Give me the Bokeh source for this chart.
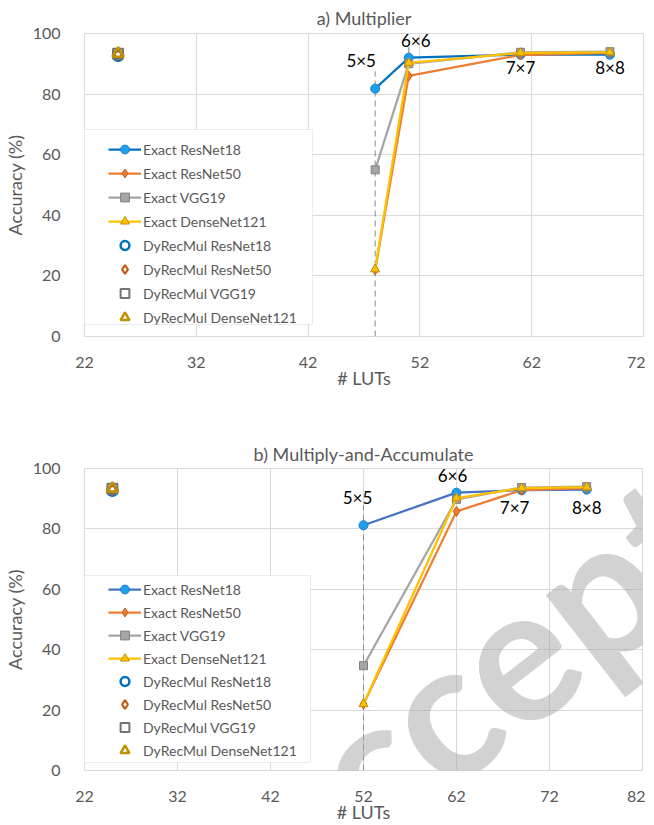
from bokeh.plotting import figure
from bokeh.models import (Legend, LegendItem, Range1d, FixedTicker, BoxAnnotation,
                          ColumnDataSource)
from bokeh.layouts import column
from bokeh.embed import file_html
from bokeh.resources import INLINE
from bokeh.core.properties import value

FONT = "Lato"
TXT = "#595959"

# ---------------- data ----------------
config_labels = ["5×5", "6×6", "7×7", "8×8"]
series_names = ["ResNet18", "ResNet50", "VGG19", "DenseNet121"]

# a) Multiplier
mul_luts = [48, 51, 61, 69]
mul_resnet18 = [81.8, 92.0, 93.0, 93.0]
mul_resnet50 = [22.0, 86.0, 92.9, 93.6]
mul_vgg19 = [55.0, 90.0, 93.8, 94.0]
mul_densenet121 = [22.2, 90.3, 93.6, 93.8]
mul_dyrec_luts = [25]
mul_dyrec_resnet18 = [92.6]
mul_dyrec_resnet50 = [93.0]
mul_dyrec_vgg19 = [93.3]
mul_dyrec_densenet121 = [93.4]
mul_ticks = [22, 32, 42, 52, 62, 72]

# b) Multiply-and-Accumulate
mac_luts = [52, 62, 69, 76]
mac_resnet18 = [81.2, 92.0, 92.8, 93.0]
mac_resnet50 = [22.0, 85.8, 92.8, 93.5]
mac_vgg19 = [34.7, 89.8, 93.7, 94.0]
mac_densenet121 = [22.0, 90.2, 93.5, 93.8]
mac_dyrec_luts = [25]
mac_dyrec_resnet18 = [92.6]
mac_dyrec_resnet50 = [93.0]
mac_dyrec_vgg19 = [93.3]
mac_dyrec_densenet121 = [93.4]
mac_ticks = [22, 32, 42, 52, 62, 72, 82]

y_ticks = [0, 20, 40, 60, 80, 100]

watermark_text = ["Accepted"]

# ---------------- styles ----------------
EXACT = {
    "ResNet18": dict(marker="circle", fill="#1E9FE8", edge="#1B7CCB", size=9),
    "ResNet50": dict(marker="diamond", fill="#ED7D31", edge="#C55A11", size=10, line="#ED7D31"),
    "VGG19": dict(marker="square", fill="#A5A5A5", edge="#7F7F7F", size=8, line="#A5A5A5"),
    "DenseNet121": dict(marker="triangle", fill="#FFC000", edge="#BF9000", size=9, line="#FFC000"),
}
DYREC = {
    "ResNet18": dict(marker="circle", edge="#0070C0", size=10, lw=2.5),
    "ResNet50": dict(marker="diamond", edge="#C55A11", size=11, lw=2.2),
    "VGG19": dict(marker="square", edge="#767171", size=10, lw=2.0),
    "DenseNet121": dict(marker="triangle", edge="#BF9000", size=11, lw=2.5),
}


def make_chart(title, luts, exact_vals, dyrec_luts, dyrec_vals, ticks, x_end,
               r18_color, frame_w, frame_h, title_standoff, bot_b, right_b,
               legend_y, legend_spacing, box, label_offsets, drop_top,
               extra_seg=None):
    p = figure(frame_width=frame_w, frame_height=frame_h,
               x_range=Range1d(22, x_end), y_range=Range1d(0, 100),
               output_backend="svg", toolbar_location=None,
               min_border_left=77, min_border_right=right_b,
               min_border_top=0, min_border_bottom=bot_b)
    p.title.text = title
    p.title.align = "center"
    p.title.text_font = FONT
    p.title.text_font_size = "18px"
    p.title.text_font_style = "normal"
    p.title.text_color = TXT
    p.title.standoff = title_standoff

    p.outline_line_color = "#d9d9d9"
    p.xgrid.grid_line_color = "#d9d9d9"
    p.ygrid.grid_line_color = "#d9d9d9"
    p.xaxis.ticker = FixedTicker(ticks=ticks)
    p.yaxis.ticker = FixedTicker(ticks=y_ticks)
    p.xgrid.ticker = FixedTicker(ticks=ticks)
    p.ygrid.ticker = FixedTicker(ticks=y_ticks)
    for ax in (p.xaxis[0], p.yaxis[0]):
        ax.axis_line_color = None
        ax.major_tick_line_color = None
        ax.minor_tick_line_color = None
        ax.major_label_text_font = FONT
        ax.major_label_text_font_size = "16px"
        ax.major_label_text_color = TXT
        ax.axis_label_text_font = FONT
        ax.axis_label_text_font_size = "18px"
        ax.axis_label_text_font_style = "normal"
        ax.axis_label_text_color = TXT
    p.xaxis.axis_label = "# LUTs"
    p.yaxis.axis_label = "Accuracy (%)"
    p.xaxis.major_label_standoff = 14
    p.xaxis.axis_label_standoff = -4
    p.yaxis.major_label_standoff = 18
    p.yaxis.axis_label_standoff = 4

    # drop line at the first configuration
    p.segment(x0=[luts[0]], y0=[0], x1=[luts[0]], y1=[drop_top],
              line_color="#8c8c8c", line_width=1, line_dash="6 4")
    if extra_seg is not None:
        p.segment(x0=[luts[1]], y0=[exact_vals[0][1]], x1=[luts[1]], y1=[extra_seg],
                  line_color="#a6a6a6", line_width=1.5)

    items = []
    for name, vals in zip(series_names, exact_vals):
        st = EXACT[name]
        lc = r18_color if name == "ResNet18" else st["line"]
        src = ColumnDataSource(dict(x=luts, y=vals))
        ln = p.line("x", "y", source=src, line_color=lc, line_width=2.25)
        sc = p.scatter("x", "y", source=src, marker=st["marker"], size=st["size"],
                       fill_color=st["fill"], line_color=st["edge"], line_width=1)
        items.append(LegendItem(label="Exact " + name, renderers=[ln, sc]))
    for name, vals in zip(series_names, dyrec_vals):
        st = DYREC[name]
        src = ColumnDataSource(dict(x=dyrec_luts, y=vals))
        sc = p.scatter("x", "y", source=src, marker=st["marker"], size=st["size"],
                       fill_color=None, line_color=st["edge"], line_width=st["lw"])
        items.append(LegendItem(label="DyRecMul " + name, renderers=[sc]))

    # configuration labels
    lsrc = ColumnDataSource(dict(x=luts, y=exact_vals[0], t=config_labels,
                                 dx=[o[0] for o in label_offsets],
                                 dy=[o[1] for o in label_offsets]))
    p.text("x", "y", text="t", source=lsrc, x_offset="dx", y_offset="dy",
           text_font=value(FONT), text_font_size="17px", text_color="#000000",
           text_align="center", text_baseline="middle")

    # legend frame
    bx = BoxAnnotation(left=box[0], right=box[1], top=box[2], bottom=box[3],
                       left_units="canvas", right_units="canvas",
                       top_units="canvas", bottom_units="canvas",
                       fill_color="white", fill_alpha=1.0,
                       line_color="#bfbfbf", line_width=1)
    p.add_layout(bx)

    leg = Legend(items=items, location=(22, legend_y), orientation="vertical",
                 glyph_width=33, glyph_height=22, label_height=16,
                 spacing=legend_spacing, padding=2, label_standoff=2, margin=0,
                 label_text_font=FONT, label_text_font_size="14px",
                 label_text_color=TXT, border_line_alpha=0,
                 background_fill_alpha=0)
    p.add_layout(leg, "center")
    return p


p1 = make_chart("a) Multiplier", mul_luts,
                [mul_resnet18, mul_resnet50, mul_vgg19, mul_densenet121],
                mul_dyrec_luts,
                [mul_dyrec_resnet18, mul_dyrec_resnet50, mul_dyrec_vgg19, mul_dyrec_densenet121],
                mul_ticks, 72, "#0070C0", 559, 303, 9, 100, 2,
                6, 2, (79, 312, 129, 324),
                [(-14, -28), (7, -17), (0, 13), (0, 13)], 87.5, extra_seg=95.5)

p2 = make_chart("b) Multiply-and-Accumulate", mac_luts,
                [mac_resnet18, mac_resnet50, mac_vgg19, mac_densenet121],
                mac_dyrec_luts,
                [mac_dyrec_resnet18, mac_dyrec_resnet50, mac_dyrec_vgg19, mac_dyrec_densenet121],
                mac_ticks, 82, "#4472C4", 558, 302, 8, 43, 3,
                7, 1, (79, 310, 139, 326),
                [(-6, -28), (-4, -17), (-7, 17), (0, 18)], 88.0)

# faint watermark lettering (clipped to the plot frame)
p2.text(x=[37.3], y=[-33.8], text=watermark_text, angle=0.66,
        text_font=value(FONT), text_font_size="190px", text_font_style="bold",
        text_color="#a6a6a6", text_alpha=0.5,
        text_align="left", text_baseline="alphabetic")

layout = column(p1, p2, spacing=0)
open("out.html", "w").write(file_html(layout, INLINE))
